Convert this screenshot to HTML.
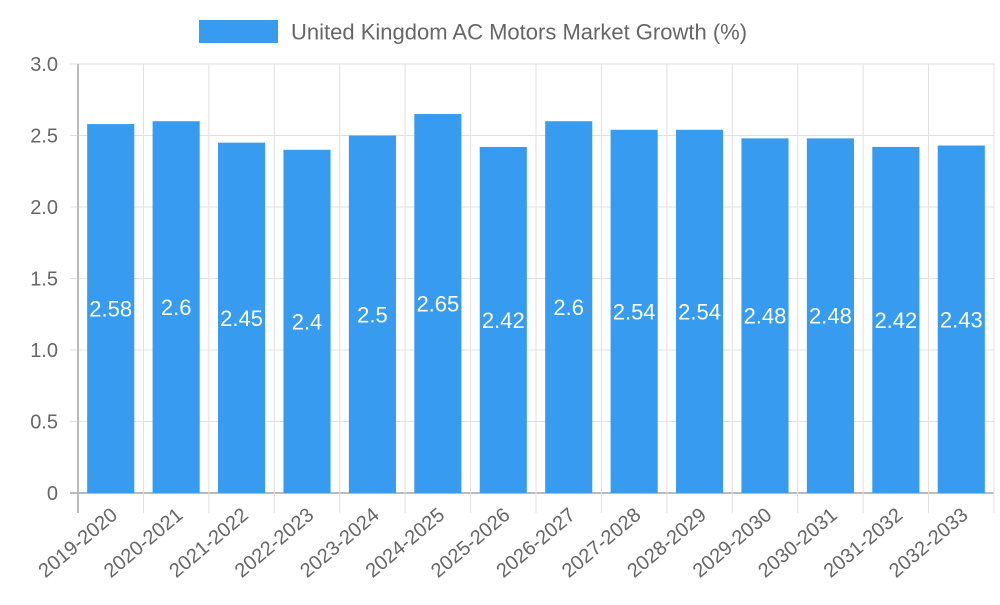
<!DOCTYPE html>
<html><head><meta charset="utf-8"><style>
body{margin:0;background:#fff;font-family:"Liberation Sans",sans-serif}
svg text{font-family:"Liberation Sans",sans-serif}
</style></head><body>
<svg id="c" width="1000" height="600" xmlns="http://www.w3.org/2000/svg">
<g>
<rect x="199" y="20" width="79" height="23" fill="#379cf0"/>
<text x="291" y="39.5" font-size="22" fill="#666">United Kingdom AC Motors Market  Growth (%)</text>
</g>
<g id="grid"></g><g id="bars"></g><g id="axes"></g>
</svg>
<script>
const categories=["2019-2020","2020-2021","2021-2022","2022-2023","2023-2024","2024-2025","2025-2026","2026-2027","2027-2028","2028-2029","2029-2030","2030-2031","2031-2032","2032-2033"];
const values=[2.58,2.6,2.45,2.4,2.5,2.65,2.42,2.6,2.54,2.54,2.48,2.48,2.42,2.43];
const yTicks=[0,0.5,1.0,1.5,2.0,2.5,3.0];
const yTickLabels=["0","0.5","1.0","1.5","2.0","2.5","3.0"];
const NS="http://www.w3.org/2000/svg";
const L=78,R=994,T=64,B=493,yMax=3;
const cw=(R-L)/categories.length;
const y=v=>B-(v/yMax)*(B-T);
const x=i=>L+i*cw;
function mk(tag,attrs,parent,txt){const e=document.createElementNS(NS,tag);for(const k in attrs)e.setAttribute(k,attrs[k]);if(txt!==undefined)e.textContent=txt;document.getElementById(parent).appendChild(e);return e;}
yTicks.forEach((t,i)=>{
  const g=mk('line',{x1:L-8,x2:R,y1:y(t),y2:y(t),stroke:i===0?'#bbb':'#e0e0e0','stroke-width':i===0?2:1},'grid');
  
  
  const tx=mk('text',{x:L-20,y:y(t)+7,'font-size':20,fill:'#666','text-anchor':'end'},'axes',yTickLabels[i]);
  
  
});
for(let i=0;i<=categories.length;i++){
  const g=mk('line',{x1:x(i),x2:x(i),y1:T,y2:B+20,stroke:i===0?'#bbb':'#e0e0e0','stroke-width':i===0?2:1},'grid');
  
  
}
categories.forEach((c,i)=>{
  const bw=cw*0.72,bx=x(i)+(cw-bw)/2;
  const r=mk('rect',{x:bx,y:y(values[i]),width:bw,height:B-y(values[i]),fill:'#379cf0'},'bars');
  
  
  const vl=mk('text',{x:x(i)+cw/2,y:(y(values[i])+B)/2+8,'font-size':22,fill:'#fff','text-anchor':'middle'},'bars',String(values[i]));
  
  
  const cx=x(i)+cw/2+8,cy=B+24;
  const xl=mk('text',{x:cx,y:cy,'font-size':20,fill:'#666','text-anchor':'end',transform:`rotate(-40 ${cx} ${cy})`},'axes',c);
  
  
});
</script>
</body></html>
